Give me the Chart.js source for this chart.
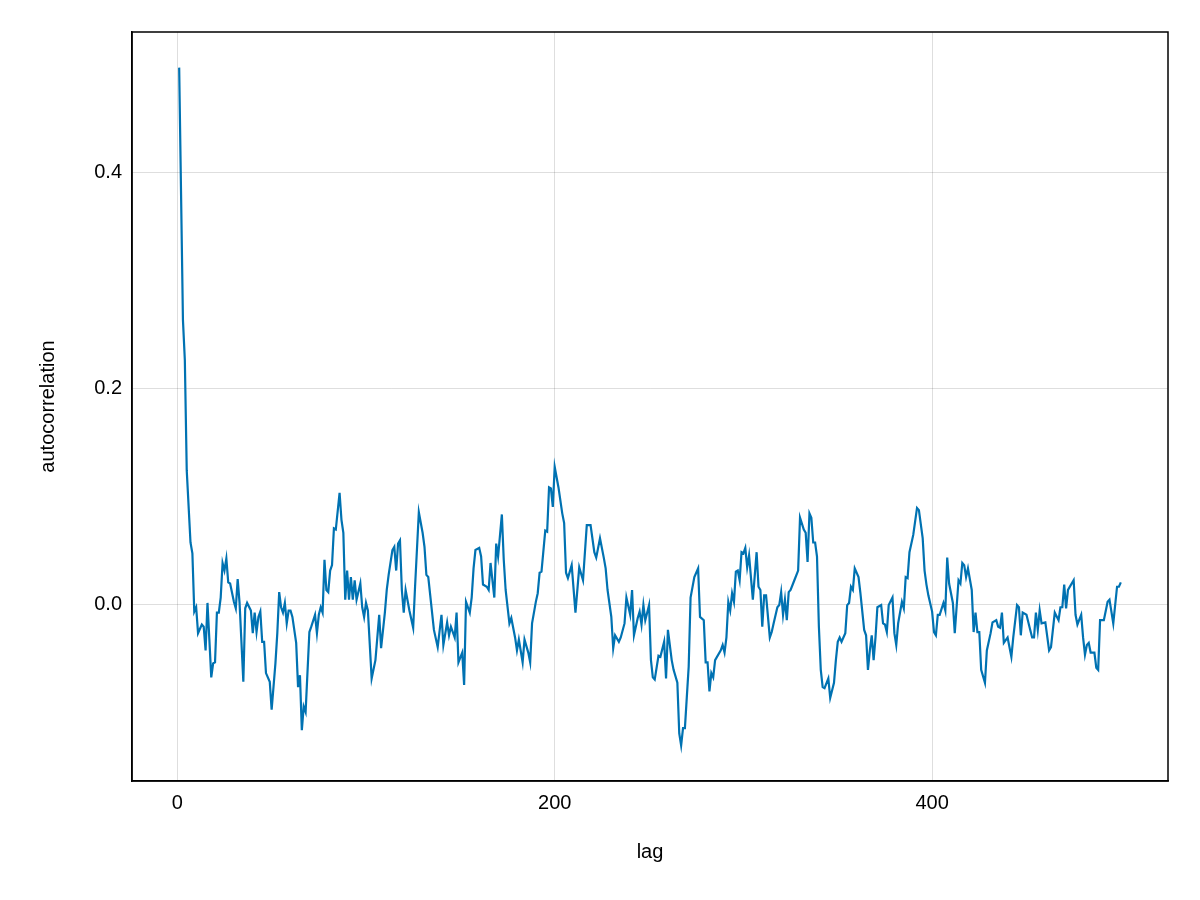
<!DOCTYPE html>
<html>
<head>
<meta charset="utf-8">
<script src="https://cdn.jsdelivr.net/npm/chart.js@4"></script>
<style>
  html, body { margin: 0; padding: 0; background: #fff; }
  #wrap { width: 1200px; height: 900px; }
</style>
</head>
<body>
<div id="wrap"><canvas id="acf"></canvas></div>
<script>
// lag values
const lags = [1,3,4,5,7,8,9,10,11,13,14,15,16,17,18,19,20,21,22,23,24,25,26,27,28,30,31,32,33,35,36,37,39,40,41,42,43,44,45,46,47,49,50,52,53,54,55,56,57,58,59,60,61,63,64,65,66,67,68,70,71,73,74,75,76,77,78,79,80,81,82,83,84,86,87,88,89,90,91,92,93,94,95,97,98,99,100,101,
103,105,107,108,110,111,112,114,115,116,117,118,119,120,121,123,125,126,128,130,131,132,133,136,138,140,141,143,144,145,147,148,149,151,152,153,155,156,157,158,160,161,162,164,165,166,168,169,170,172,173,174,176,177,179,180,181,183,184,186,187,188,190,191,192,193,195,196,197,198,199,200,
202,204,205,206,207,209,211,213,215,217,219,221,222,224,226,227,228,230,231,232,234,235,237,238,240,241,242,244,245,246,247,248,250,251,252,253,255,256,258,259,260,262,263,265,266,267,268,269,271,272,274,275,276,277,279,280,281,282,283,284,285,288,289,290,291,292,293,294,295,296,297,298,299,300,
301,302,303,305,307,308,309,310,311,312,314,315,316,318,319,320,321,322,323,324,325,327,329,330,332,333,334,335,336,337,338,339,340,341,342,343,345,346,348,349,350,351,352,354,355,356,357,358,359,361,362,364,365,366,367,368,369,370,371,373,374,375,376,377,379,380,381,382,384,385,386,387,388,390,392,393,395,396,397,398,400,
401,402,403,404,406,407,408,409,411,412,414,415,416,417,418,419,421,422,423,424,425,426,428,429,431,432,434,435,436,437,438,440,442,443,445,446,447,448,450,452,453,454,455,456,457,458,460,462,463,465,467,468,469,470,471,472,475,476,477,479,480,481,482,483,484,486,487,488,489,491,493,494,496,498,499,500];

const autocorr = [0.497,0.263,0.226,0.124,0.057,0.047,-0.007,-0.003,-0.027,-0.019,-0.021,-0.043,0.001,-0.033,-0.068,-0.055,-0.054,-0.008,-0.008,0.006,0.038,0.031,0.042,0.020,0.019,0.002,-0.004,0.023,0.001,-0.072,-0.004,0.001,-0.006,-0.027,-0.008,-0.026,-0.012,-0.007,-0.035,-0.035,-0.064,-0.072,-0.098,-0.055,-0.027,0.011,-0.003,-0.008,0.001,-0.018,-0.006,-0.006,-0.012,-0.036,-0.077,-0.066,-0.117,-0.095,-0.100,-0.026,-0.021,-0.010,-0.027,-0.010,-0.003,-0.008,0.041,0.013,0.011,0.031,0.036,0.070,0.069,0.103,0.078,0.066,0.004,0.031,0.004,0.025,0.004,0.022,0.004,0.019,-0.003,-0.012,0.001,-0.006,
-0.069,-0.052,-0.010,-0.041,-0.008,0.013,0.027,0.050,0.053,0.031,0.056,0.059,0.013,-0.008,0.013,-0.006,-0.022,0.016,0.085,0.066,0.053,0.027,0.025,-0.024,-0.040,-0.010,-0.038,-0.017,-0.029,-0.021,-0.031,-0.008,-0.054,-0.045,-0.075,0.002,-0.008,0.006,0.033,0.050,0.052,0.044,0.018,0.016,0.013,0.038,0.006,0.056,0.044,0.083,0.041,0.013,-0.018,-0.013,-0.031,-0.043,-0.033,-0.054,-0.033,-0.045,-0.054,-0.018,0.002,0.010,0.029,0.030,0.068,0.067,0.108,0.107,0.090,0.127,
0.108,0.084,0.075,0.029,0.024,0.036,-0.008,0.034,0.022,0.073,0.073,0.048,0.043,0.061,0.043,0.033,0.013,-0.012,-0.041,-0.029,-0.035,-0.031,-0.018,0.006,-0.010,0.013,-0.029,-0.013,-0.007,-0.019,-0.001,-0.015,-0.001,-0.052,-0.068,-0.070,-0.048,-0.049,-0.035,-0.069,-0.024,-0.052,-0.061,-0.073,-0.120,-0.131,-0.115,-0.115,-0.058,0.006,0.025,0.029,0.033,-0.012,-0.015,-0.054,-0.054,-0.081,-0.064,-0.068,-0.052,-0.043,-0.038,-0.045,-0.031,0.002,-0.006,0.010,0.002,0.030,0.031,0.022,0.048,0.047,
0.052,0.034,0.045,0.004,0.048,0.016,0.013,-0.021,0.008,0.008,-0.031,-0.026,-0.018,-0.003,-0.001,0.011,-0.010,0.004,-0.015,0.011,0.013,0.022,0.031,0.080,0.069,0.066,0.039,0.084,0.080,0.057,0.057,0.044,-0.021,-0.061,-0.077,-0.078,-0.069,-0.087,-0.073,-0.052,-0.035,-0.031,-0.035,-0.027,-0.001,0.001,0.016,0.013,0.033,0.025,0.010,-0.024,-0.029,-0.061,-0.043,-0.029,-0.052,-0.031,-0.003,-0.001,-0.018,-0.019,-0.026,-0.001,0.006,-0.027,-0.038,-0.018,0.002,-0.004,0.025,0.024,0.048,0.064,0.089,0.087,0.061,0.031,0.018,0.008,-0.007,
-0.026,-0.029,-0.010,-0.010,0.001,-0.006,0.043,0.019,0.001,-0.027,0.022,0.019,0.038,0.036,0.025,0.033,0.013,-0.026,-0.008,-0.026,-0.026,-0.061,-0.073,-0.043,-0.027,-0.017,-0.015,-0.021,-0.022,-0.008,-0.036,-0.031,-0.049,-0.031,-0.001,-0.003,-0.029,-0.008,-0.010,-0.024,-0.031,-0.031,-0.008,-0.024,-0.006,-0.018,-0.017,-0.043,-0.040,-0.008,-0.015,-0.003,-0.003,0.018,-0.004,0.013,0.022,-0.010,-0.019,-0.010,-0.031,-0.047,-0.038,-0.036,-0.045,-0.045,-0.059,-0.061,-0.015,-0.015,0.002,0.004,-0.018,0.016,0.016,0.020];

const xTicks = [0, 200, 400];
const yTicks = [0.0, 0.2, 0.4];

const fontFam = "'Liberation Sans', Arial, sans-serif";
const gridCol = 'rgba(0,0,0,0.13)';

// box around the plot area (top and right edges)
const frame = {
  id: 'frame',
  afterDraw(chart) {
    const a = chart.chartArea, ctx = chart.ctx;
    ctx.save();
    ctx.strokeStyle = '#000';
    ctx.lineWidth = 1.5;
    ctx.strokeRect(a.left, a.top, a.right - a.left, a.bottom - a.top);
    ctx.restore();
  }
};

new Chart(document.getElementById('acf'), {
  type: 'line',
  data: {
    datasets: [{
      data: lags.map((l, i) => ({ x: l, y: autocorr[i] })),
      borderColor: '#0072b2',
      borderWidth: 2.2,
      pointRadius: 0,
      fill: false,
      tension: 0
    }]
  },
  options: {
    responsive: true,
    maintainAspectRatio: false,
    animation: false,
    layout: { padding: { top: 32, right: 32, left: 32, bottom: 32 } },
    plugins: { legend: { display: false }, tooltip: { enabled: false } },
    scales: {
      x: {
        type: 'linear',
        min: -24, max: 525,
        afterBuildTicks: s => { s.ticks = xTicks.map(v => ({ value: v })); },
        afterFit: s => { s.height = 87; },
        grid: { color: gridCol, drawTicks: false },
        border: { color: '#000', width: 1.5 },
        ticks: { color: '#000', padding: 10, font: { family: fontFam, size: 20 }, callback: v => String(v) },
        title: { display: true, text: 'lag', color: '#000', font: { family: fontFam, size: 20 }, padding: { top: 10 } }
      },
      y: {
        min: -0.164, max: 0.53,
        afterBuildTicks: s => { s.ticks = yTicks.map(v => ({ value: v })); },
        afterFit: s => { s.width = 100; },
        grid: { color: gridCol, drawTicks: false },
        border: { color: '#000', width: 1.5 },
        ticks: { color: '#000', padding: 10, font: { family: fontFam, size: 20 }, callback: v => v.toFixed(1) },
        title: { display: true, text: 'autocorrelation', color: '#000', font: { family: fontFam, size: 20 }, padding: { bottom: 8 } }
      }
    }
  },
  plugins: [frame]
});
</script>
</body>
</html>
